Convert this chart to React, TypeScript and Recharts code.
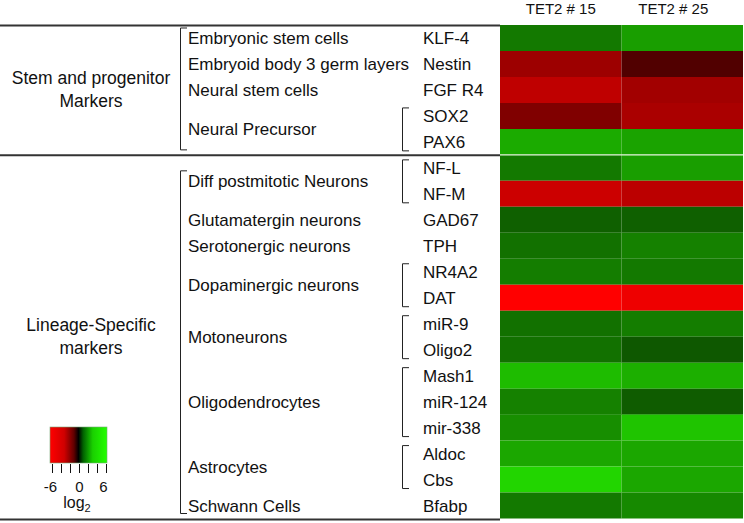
import React from "react";
import { BarChart, Bar, Cell, XAxis, YAxis } from "recharts";

const genes = ["KLF-4", "Nestin", "FGF R4", "SOX2", "PAX6", "NF-L", "NF-M", "GAD67", "TPH", "NR4A2", "DAT", "miR-9", "Oligo2", "Mash1", "miR-124", "mir-338", "Aldoc", "Cbs", "Bfabp"];
const samples = ["TET2 # 15", "TET2 # 25"];
// log2 fold change
const tet2_15 = [2.9, -3.7, -4.5, -3.0, 4.1, 2.9, -4.8, 2.3, 2.7, 3.0, -6.0, 2.7, 2.7, 4.5, 3.1, 3.4, 4.0, 5.1, 2.9];
const tet2_25 = [3.8, -1.9, -3.8, -4.0, 3.9, 3.8, -4.4, 2.3, 3.1, 2.9, -5.6, 3.0, 2.1, 4.2, 2.2, 4.7, 4.0, 4.0, 3.3];

const cellTypes: [string, string, string][] = [
  ["Embryonic stem cells", "KLF-4", "KLF-4"],
  ["Embryoid body 3 germ layers", "Nestin", "Nestin"],
  ["Neural stem cells", "FGF R4", "FGF R4"],
  ["Neural Precursor", "SOX2", "PAX6"],
  ["Diff postmitotic Neurons", "NF-L", "NF-M"],
  ["Glutamatergin neurons", "GAD67", "GAD67"],
  ["Serotonergic neurons", "TPH", "TPH"],
  ["Dopaminergic neurons", "NR4A2", "DAT"],
  ["Motoneurons", "miR-9", "Oligo2"],
  ["Oligodendrocytes", "Mash1", "mir-338"],
  ["Astrocytes", "Aldoc", "Cbs"],
  ["Schwann Cells", "Bfabp", "Bfabp"],
];

const sections = [
  { lines: ["Stem and progenitor", "Markers"], from: "KLF-4", to: "PAX6" },
  { lines: ["Lineage-Specific", "markers"], from: "NF-L", to: "Bfabp" },
];

const legendTicks = [-6, -4, -2, 0, 2, 4, 6];
const legendLabels = [-6, 0, 6];

const W = 744;
const H = 523;
const TOP = 25;
const BOTTOM = 4.5;
const ROW_H = (H - BOTTOM - TOP) / genes.length;
const FONT = "'Liberation Sans', Arial, sans-serif";

const rowTop = (g: string) => TOP + genes.indexOf(g) * ROW_H;
const rowBottom = (g: string) => rowTop(g) + ROW_H;

function heat(v: number) {
  const t = Math.min(Math.abs(v) / 6, 1);
  if (v < 0) return `rgb(${Math.round(255 * t)},0,0)`;
  return `rgb(${Math.round(40 * t)},${Math.round(250 * t)},0)`;
}

const rows = genes.map((g, i) => ({ gene: g, a: 1, b: 1, v15: tet2_15[i], v25: tet2_25[i] }));

function HeaderTick(props: any) {
  const { x, payload } = props;
  const i = Math.floor(payload.value);
  return (
    <text x={x} dx={i === 1 ? -9 : 0} y={13.5} textAnchor="middle" fontSize={15} fontFamily={FONT} fill="#111">
      {samples[i]}
    </text>
  );
}

function GeneTick(props: any) {
  const { y, payload } = props;
  return (
    <text x={423} y={y} dy={6} textAnchor="start" fontSize={17} fontFamily={FONT} fill="#111">
      {payload.value}
    </text>
  );
}

function Overlay() {
  const lx = (v: number) => Math.round(52 + ((v + 6) / 12) * 54) + 0.5;
  return (
    <svg width={W} height={H} style={{ position: "absolute", left: 0, top: 0, pointerEvents: "none" }}>
      <defs>
        <linearGradient id="lg" x1="0" y1="0" x2="1" y2="0">
          <stop offset="0" stopColor="#ff0000" />
          <stop offset="0.25" stopColor="#d00000" />
          <stop offset="0.42" stopColor="#600000" />
          <stop offset="0.5" stopColor="#000000" />
          <stop offset="0.58" stopColor="#006000" />
          <stop offset="0.75" stopColor="#1ad000" />
          <stop offset="1" stopColor="#22ff00" />
        </linearGradient>
      </defs>

      {/* section rules */}
      {sections.map((s) => (
        <line key={s.from} x1={0} x2={500} y1={rowTop(s.from) + 0.5} y2={rowTop(s.from) + 0.5} stroke="#333" strokeWidth={2} />
      ))}
      <line x1={0} x2={500} y1={H - 3.5} y2={H - 3.5} stroke="#333" strokeWidth={2} />
      <line x1={500} x2={743} y1={rowTop("NF-L")} y2={rowTop("NF-L")} stroke="#e8f5e0" strokeWidth={1.2} />

      {/* section labels + brackets */}
      {sections.map((s) => {
        const cy = (rowTop(s.from) + rowBottom(s.to)) / 2;
        const first = cellTypes.find((c) => c[1] === s.from)!;
        const top = (rowTop(first[1]) + rowBottom(first[2])) / 2 - 10;
        const bot = rowBottom(s.to) - 5;
        return (
          <g key={s.from}>
            {s.lines.map((t, i) => (
              <text key={t} x={91} y={cy - 11.5 + i * 23 + 6} textAnchor="middle" fontSize={17.5} fontFamily={FONT} fill="#111">
                {t}
              </text>
            ))}
            <path d={`M187,${top} H180.5 V${bot} H187`} fill="none" stroke="#222" strokeWidth={1} />
          </g>
        );
      })}

      {/* cell types + gene brackets */}
      {cellTypes.map(([label, from, to]) => {
        const cy = (rowTop(from) + rowBottom(to)) / 2;
        return (
          <g key={label}>
            <text x={188} y={cy + 6} fontSize={17} fontFamily={FONT} fill="#111">
              {label}
            </text>
            {from !== to && (
              <path d={`M409,${rowTop(from) + 5} H402.5 V${rowBottom(to) - 4} H409`} fill="none" stroke="#222" strokeWidth={1} />
            )}
          </g>
        );
      })}

      {/* colour key */}
      <rect x={50} y={427} width={57} height={36} fill="url(#lg)" stroke="#7a7" strokeWidth={0.6} />
      {legendTicks.map((v) => (
        <line key={v} x1={lx(v)} x2={lx(v)} y1={464} y2={473} stroke="#111" strokeWidth={1} />
      ))}
      {legendLabels.map((v) => (
        <text key={v} x={lx(v) - (v < 0 ? 2 : v > 0 ? 3 : 0)} y={491.5} textAnchor="middle" fontSize={15} fontFamily={FONT} fill="#111">
          {v}
        </text>
      ))}
      <text x={77} y={508} textAnchor="middle" fontSize={16} fontFamily={FONT} fill="#111">
        log<tspan fontSize={11} dy={4}>2</tspan>
      </text>
    </svg>
  );
}

export default function App() {
  return (
    <div style={{ position: "absolute", left: 0, top: 0, width: W, height: H, background: "#fff" }}>
      <BarChart width={W} height={H} data={rows} layout="vertical" margin={{ top: 0, right: 1, bottom: BOTTOM, left: 0 }} barCategoryGap={0}>
        <XAxis type="number" orientation="top" domain={[0, 2]} ticks={[0.5, 1.5]} height={TOP} axisLine={false} tickLine={false} tick={HeaderTick} />
        <YAxis type="category" dataKey="gene" width={500} axisLine={false} tickLine={false} tick={GeneTick} interval={0} />
        <Bar dataKey="a" stackId="s" isAnimationActive={false}>
          {rows.map((r) => (
            <Cell key={r.gene} fill={heat(r.v15)} />
          ))}
        </Bar>
        <Bar dataKey="b" stackId="s" isAnimationActive={false}>
          {rows.map((r) => (
            <Cell key={r.gene} fill={heat(r.v25)} />
          ))}
        </Bar>
      </BarChart>
      <Overlay />
    </div>
  );
}
